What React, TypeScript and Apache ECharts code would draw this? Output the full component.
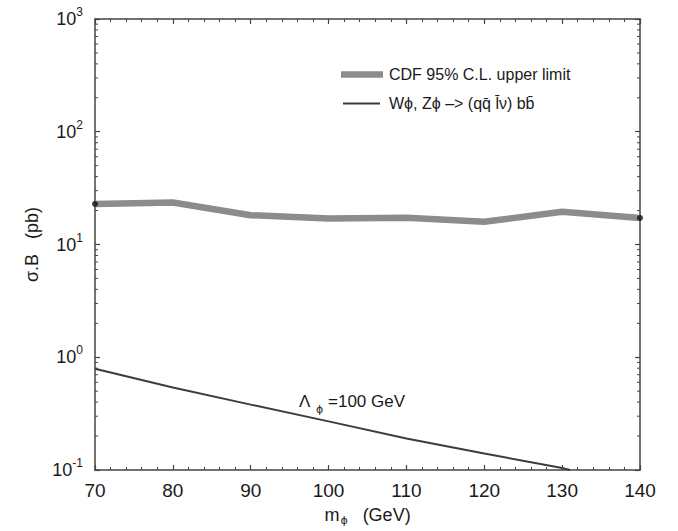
import React, { useEffect, useRef } from "react";
import * as echarts from "echarts";

// ---- data ----
const massCDF = [70, 80, 90, 100, 110, 120, 130, 140];
const cdfLimit = [22.9, 23.6, 18.2, 17.0, 17.3, 15.9, 19.5, 17.2];

const massTheory = [70, 80, 90, 100, 110, 120, 130, 131];
const theoryXsec = [0.79, 0.54, 0.38, 0.27, 0.19, 0.14, 0.104, 0.1];

const xTickValues = [70, 80, 90, 100, 110, 120, 130, 140];
const yDecades = [-1, 0, 1, 2, 3];

const legendNames = ["CDF 95% C.L. upper limit", "W\u03d5, Z\u03d5 \u2013> (qq\u0304 l\u0304\u03bd) bb\u0304"];
const annotation = { symbol: "\u039b", sub: "\u03d5", text: "=100 GeV" };

const FONT = "'Liberation Sans', Arial, Helvetica, sans-serif";
const PHI_FONT = "'DejaVu Sans', 'Liberation Sans', sans-serif";
const AXIS_COLOR = "#444";
const TEXT_COLOR = "#1a1a1a";
const CDF_COLOR = "#8c8c8c";
const THEORY_COLOR = "#3c3c3c";

export default function App() {
  const ref = useRef<HTMLDivElement>(null);

  useEffect(() => {
    if (!ref.current) return;
    const chart = echarts.init(ref.current, null, { renderer: "svg" });

    const axisLineStyle = { color: AXIS_COLOR, width: 1.5 };
    const xCommon = {
      type: "value" as const,
      min: xTickValues[0],
      max: xTickValues[xTickValues.length - 1],
      interval: 10,
      splitLine: { show: false },
      axisLine: { show: true, lineStyle: axisLineStyle },
      axisTick: { show: true, inside: true, length: 5, lineStyle: { color: AXIS_COLOR, width: 1.2 } },
      minorTick: { show: true, splitNumber: 5, length: 3, lineStyle: { color: AXIS_COLOR, width: 1 } },
      minorSplitLine: { show: false },
    };
    const yCommon = {
      type: "log" as const,
      logBase: 10,
      min: Math.pow(10, yDecades[0]),
      max: Math.pow(10, yDecades[yDecades.length - 1]),
      splitLine: { show: false },
      axisLine: { show: true, lineStyle: axisLineStyle },
      axisTick: { show: true, inside: true, length: 5, lineStyle: { color: AXIS_COLOR, width: 1.2 } },
    };

    const option: any = {
      animation: false,
      backgroundColor: "#fff",
      textStyle: { fontFamily: FONT },
      grid: { left: 95, right: 38, top: 19, bottom: 58, containLabel: false },
      xAxis: [
        {
          ...xCommon,
          position: "bottom",
          axisLabel: { show: true, color: TEXT_COLOR, fontSize: 19, fontFamily: FONT, margin: 11 },
          name: "{m|m}{sub|\u03d5}{g|   (GeV)}",
          nameLocation: "middle",
          nameGap: 33,
          nameTextStyle: {
            color: TEXT_COLOR,
            rich: {
              m: { fontSize: 18, color: TEXT_COLOR, fontFamily: FONT },
              sub: { fontSize: 11, color: TEXT_COLOR, fontFamily: PHI_FONT, padding: [12, 0, 0, 1] },
              g: { fontSize: 18, color: TEXT_COLOR, fontFamily: FONT },
            },
          },
        },
        {
          ...xCommon,
          position: "top",
          axisLabel: { show: false },
        },
      ],
      yAxis: [
        {
          ...yCommon,
          position: "left",
          axisLabel: {
            show: true,
            margin: 12,
            formatter: (v: number) => `{b|10}{s|${Math.round(Math.log10(v))}}`,
            rich: {
              b: { fontSize: 18, color: TEXT_COLOR, fontFamily: FONT },
              s: { fontSize: 12, color: TEXT_COLOR, fontFamily: FONT, padding: [0, 0, 14, 0] },
            },
          },
          name: "\u03c3.B   (pb)",
          nameLocation: "middle",
          nameGap: 42,
          nameRotate: 90,
          nameTextStyle: { fontSize: 18, color: TEXT_COLOR, fontFamily: FONT },
        },
        {
          ...yCommon,
          position: "right",
          axisLabel: { show: false },
        },
      ],
      series: [
        {
          type: "line",
          name: legendNames[0],
          data: massCDF.map((m, i) => [m, cdfLimit[i]]),
          showSymbol: false,
          symbol: "none",
          lineStyle: { color: CDF_COLOR, width: 6.5, cap: "butt", join: "round" },
          z: 3,
        },
        {
          type: "scatter",
          data: [
            [massCDF[0], cdfLimit[0]],
            [massCDF[massCDF.length - 1], cdfLimit[cdfLimit.length - 1]],
          ],
          symbol: "circle",
          symbolSize: 6,
          itemStyle: { color: "#111" },
          z: 4,
          clip: false,
        },
        {
          type: "line",
          name: legendNames[1],
          data: massTheory.map((m, i) => [m, theoryXsec[i]]),
          showSymbol: false,
          symbol: "none",
          lineStyle: { color: THEORY_COLOR, width: 2 },
          z: 3,
        },
      ],
    };

    chart.setOption(option);

    // minor ticks on the log axes (2..9 within each decade), via the axis scale
    const left = 95;
    const right = 678 - 38;
    const minorLines: any[] = [];
    for (let di = 0; di < yDecades.length - 1; di++) {
      const base = Math.pow(10, yDecades[di]);
      for (let k = 2; k <= 9; k++) {
        const y = chart.convertToPixel({ yAxisIndex: 0 }, k * base) as unknown as number;
        minorLines.push({
          type: "line",
          shape: { x1: left, y1: y, x2: left + 3, y2: y },
          style: { stroke: AXIS_COLOR, lineWidth: 1 },
          silent: true,
        });
        minorLines.push({
          type: "line",
          shape: { x1: right - 3, y1: y, x2: right, y2: y },
          style: { stroke: AXIS_COLOR, lineWidth: 1 },
          silent: true,
        });
      }
    }

    const legend: any[] = [
      {
        type: "line",
        shape: { x1: 341, y1: 74.5, x2: 383, y2: 74.5 },
        style: { stroke: CDF_COLOR, lineWidth: 6.5 },
      },
      {
        type: "text",
        x: 389,
        y: 74.5,
        style: { text: legendNames[0], fontSize: 16, fontFamily: FONT, fill: TEXT_COLOR, verticalAlign: "middle" },
      },
      {
        type: "line",
        shape: { x1: 343, y1: 103.5, x2: 380, y2: 103.5 },
        style: { stroke: THEORY_COLOR, lineWidth: 2 },
      },
      {
        type: "text",
        x: 389,
        y: 103.5,
        style: { text: legendNames[1], fontSize: 16, fontFamily: FONT, fill: TEXT_COLOR, verticalAlign: "middle" },
      },
      {
        type: "text",
        x: 299,
        y: 401,
        style: { text: annotation.symbol, fontSize: 17, fontFamily: FONT, fill: TEXT_COLOR, verticalAlign: "middle" },
      },
      {
        type: "text",
        x: 316,
        y: 409,
        style: { text: annotation.sub, fontSize: 11, fontFamily: PHI_FONT, fill: TEXT_COLOR, verticalAlign: "middle" },
      },
      {
        type: "text",
        x: 328,
        y: 401,
        style: { text: annotation.text, fontSize: 17, fontFamily: FONT, fill: TEXT_COLOR, verticalAlign: "middle" },
      },
    ];

    chart.setOption({ graphic: [...legend, ...minorLines] });

    return () => {
      chart.dispose();
    };
  }, []);

  return <div ref={ref} style={{ width: 678, height: 531, position: "absolute", left: 0, top: 0 }} />;
}
